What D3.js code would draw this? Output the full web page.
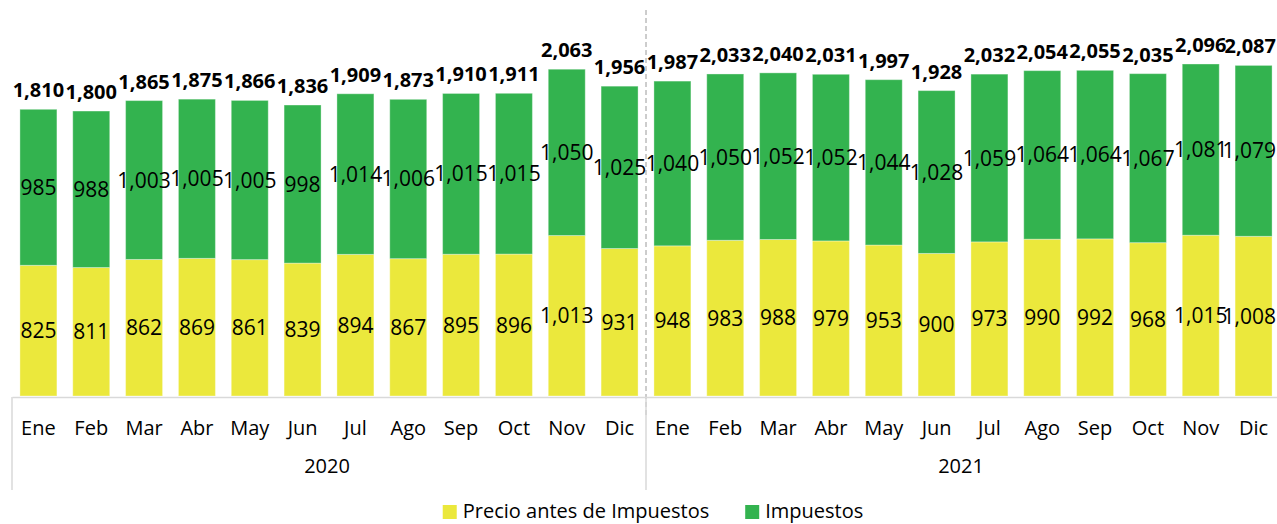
<!DOCTYPE html>
<html>
<head>
<meta charset="utf-8">
<script src="https://cdn.jsdelivr.net/npm/d3@7"></script>
<style>
  html, body { margin: 0; padding: 0; background: #fff; }
  svg { display: block; font-family: "Open Sans", "Noto Sans", sans-serif; }
</style>
</head>
<body>
<svg id="chart" width="1277" height="524"></svg>
<script>
// ---- Data ----
const months = ["Ene","Feb","Mar","Abr","May","Jun","Jul","Ago","Sep","Oct","Nov","Dic"];
const years = ["2020","2021"];
const seriesNames = ["Precio antes de Impuestos","Impuestos"];
const precio = [825,811,862,869,861,839,894,867,895,896,1013,931,
                948,983,988,979,953,900,973,990,992,968,1015,1008];
const impuestos = [985,988,1003,1005,1005,998,1014,1006,1015,1015,1050,1025,
                   1040,1050,1052,1052,1044,1028,1059,1064,1064,1067,1081,1079];
const totals = [1810,1800,1865,1875,1866,1836,1909,1873,1910,1911,2063,1956,
                1987,2033,2040,2031,1997,1928,2032,2054,2055,2035,2096,2087];

// ---- Styling ----
const colors = ["#EBE83C", "#33B34F"];
const fmt = d3.format(",");
const W = 1277;

const svg = d3.select("#chart");
const n = precio.length;
const idx = d3.range(n);

const x = d3.scaleBand().domain(idx).range([12, 1280]).paddingInner(0.3).paddingOuter(0.15);
const y = d3.scaleLinear().domain([0, 2500]).range([396, 0]);

const rows = idx.map(i => ({i, precio: precio[i], impuestos: impuestos[i], total: totals[i]}));
const stack = d3.stack().keys(["precio", "impuestos"]);
const layers = stack(rows);

// keep labels inside the viewport
function clampX(sel) {
  sel.each(function() {
    const t = d3.select(this);
    const w = this.getComputedTextLength();
    const cx = +t.attr("x");
    if (cx + w / 2 > W - 1) t.attr("x", W - 1 - w / 2);
  });
}

// dashed divider between years
const groupX = g => x.range()[0] + g * months.length * x.step();
svg.append("line")
  .attr("x1", groupX(1)).attr("x2", groupX(1))
  .attr("y1", 10).attr("y2", 417)
  .attr("stroke", "#9a9a9a").attr("stroke-width", 1)
  .attr("stroke-dasharray", "5,3");

// bars
const layerG = svg.append("g").selectAll("g").data(layers).join("g")
  .attr("fill", (d, k) => colors[k]);
layerG.selectAll("rect").data(d => d).join("rect")
  .attr("x", d => x(d.data.i))
  .attr("width", x.bandwidth())
  .attr("y", d => y(d[1]))
  .attr("height", d => y(d[0]) - y(d[1]))
  .attr("stroke", "rgba(255,255,255,0.35)")
  .attr("stroke-width", 1);

// inside labels
layers.forEach((layer, k) => {
  svg.append("g").selectAll("text").data(layer).join("text")
    .attr("x", d => x(d.data.i) + x.bandwidth() / 2)
    .attr("y", d => (y(d[0]) + y(d[1])) / 2 + 7.5)
    .attr("text-anchor", "middle")
    .attr("font-size", 21)
    .attr("fill", "#000")
    .text(d => fmt(d[1] - d[0]))
    .call(clampX);
});

// totals
svg.append("g").selectAll("text").data(rows).join("text")
  .attr("x", d => x(d.i) + x.bandwidth() / 2)
  .attr("y", d => y(d.precio + d.impuestos) - 12)
  .attr("text-anchor", "middle")
  .attr("font-size", 20)
  .attr("font-weight", "bold")
  .attr("fill", "#000")
  .text(d => fmt(d.total))
  .call(clampX);

// x axis (months)
const axis = svg.append("g")
  .attr("transform", `translate(0,${y(0) + 1})`)
  .call(d3.axisBottom(x).tickFormat(i => months[i % months.length]).tickSize(0).tickSizeOuter(0).tickPadding(24));
axis.select(".domain").attr("stroke", "#d9d9d9").attr("stroke-width", 1.5);
axis.selectAll("text").attr("font-size", 20).attr("fill", "#000")
  .attr("font-family", "\"Open Sans\", \"Noto Sans\", sans-serif");

// group separators and year labels
const sepG = svg.append("g");
d3.range(years.length + 1).forEach(g => {
  sepG.append("line")
    .attr("x1", groupX(g)).attr("x2", groupX(g))
    .attr("y1", y(0) + 1).attr("y2", 490)
    .attr("stroke", "#d9d9d9").attr("stroke-width", 1.5);
});
svg.append("g").selectAll("text").data(years).join("text")
  .attr("x", (d, g) => (groupX(g) + groupX(g + 1)) / 2 - 2)
  .attr("y", 473)
  .attr("text-anchor", "middle")
  .attr("font-size", 20)
  .attr("fill", "#000")
  .text(d => d);

// legend
const legend = svg.append("g");
const items = seriesNames.map((name, k) => {
  const g = legend.append("g");
  g.append("rect").attr("width", 14).attr("height", 14).attr("y", 505).attr("fill", colors[k]);
  const t = g.append("text").attr("x", 20).attr("y", 518).attr("font-size", 20).attr("fill", "#000").text(name);
  return {g, w: 20 + t.node().getComputedTextLength()};
});
const gap = 36;
const totalW = d3.sum(items, d => d.w) + gap * (items.length - 1);
let cx = 653 - totalW / 2;
items.forEach(it => { it.g.attr("transform", `translate(${cx},0)`); cx += it.w + gap; });
</script>
</body>
</html>
